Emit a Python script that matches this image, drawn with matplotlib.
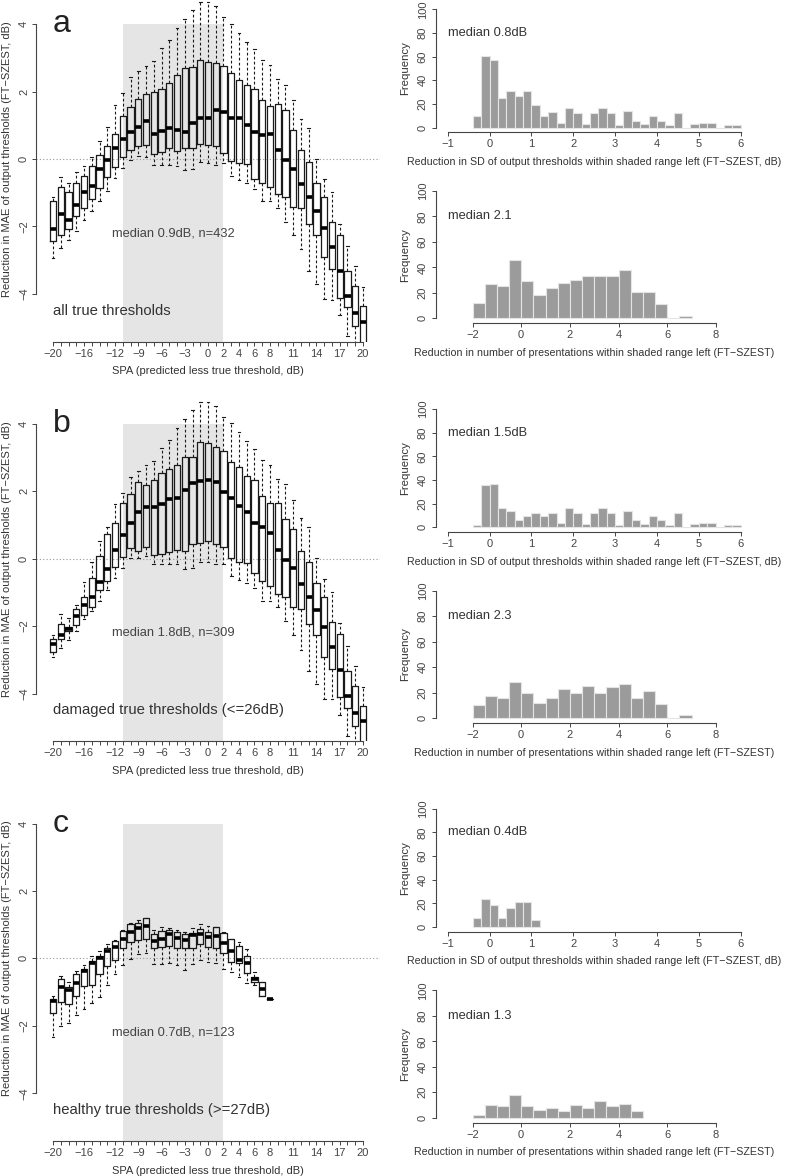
"""Boxplots of MAE reduction by SPA, with SD / presentation histograms (3 subsets)."""

import matplotlib

matplotlib.use("Agg")
import matplotlib.pyplot as plt
import numpy as np
from matplotlib.patches import Rectangle

plt.rcParams["font.family"] = ["Liberation Sans", "DejaVu Sans"]
plt.rcParams["text.color"] = "#333333"
plt.rcParams["axes.labelcolor"] = "#333333"
plt.rcParams["xtick.color"] = "#444444"
plt.rcParams["ytick.color"] = "#444444"

MINUS = "\u2212"

# ── data ──────────────────────────────────────────────────────────────

spa = list(range(-20, 21))
spa_labels = [-20, -16, -12, -9, -6, -3, 0, 2, 4, 6, 8, 11, 14, 17, 20]

# (a) all true thresholds
a_whislo = [-2.93, -2.65, -2.41, -2.15, -1.80, -1.53, -1.26, -0.95, -0.57, -0.28, -0.02,
            0.09, 0.07, -0.17, -0.17, -0.17, -0.20, -0.33, -0.30, -0.10, -0.11, -0.17,
            -0.11, -0.50, -0.62, -0.71, -0.89, -1.26, -1.26, -1.44, -1.86, -2.26, -2.68,
            -3.32, -3.71, -4.16, -4.17, -4.64, -5.26, -5.70, -6.00]
a_q1 = [-2.44, -2.24, -2.08, -1.69, -1.45, -1.18, -0.85, -0.54, -0.25, 0.06, 0.26,
        0.40, 0.41, 0.15, 0.22, 0.32, 0.23, 0.32, 0.32, 0.44, 0.42, 0.39,
        0.19, -0.05, -0.11, -0.15, -0.60, -0.72, -0.84, -1.04, -1.14, -1.42, -1.46,
        -1.93, -2.26, -2.92, -3.26, -4.12, -4.40, -4.96, -5.60]
a_med = [-2.07, -1.62, -1.80, -1.36, -0.98, -0.79, -0.30, -0.03, 0.33, 0.60, 0.79,
         0.96, 1.14, 0.74, 0.83, 0.93, 0.87, 0.81, 1.08, 1.21, 1.22, 1.45,
         1.38, 1.23, 1.21, 1.00, 0.81, 0.70, 0.73, 0.27, -0.04, -0.29, -0.74,
         -1.12, -1.53, -2.04, -2.60, -3.32, -4.07, -4.58, -4.83]
a_q3 = [-1.25, -0.82, -0.97, -0.72, -0.49, -0.21, 0.11, 0.40, 0.73, 1.27, 1.55,
        1.79, 1.94, 1.98, 2.07, 2.25, 2.49, 2.69, 2.73, 2.94, 2.88, 2.84,
        2.76, 2.54, 2.34, 2.21, 2.07, 1.75, 1.58, 1.62, 1.46, 0.87, 0.26,
        -0.10, -0.72, -1.14, -1.87, -2.24, -3.33, -3.77, -4.37]
a_whishi = [-1.12, -0.52, -0.70, -0.40, -0.21, 0.07, 0.52, 0.94, 1.61, 1.95, 2.43,
            2.61, 2.77, 2.92, 3.28, 3.53, 3.88, 4.15, 4.43, 4.67, 4.67, 4.54,
            4.21, 4.01, 3.75, 3.48, 3.26, 2.94, 2.78, 2.37, 2.21, 1.75, 1.20,
            0.93, 0.00, -0.59, -0.99, -1.92, -2.58, -3.18, -3.81]

# (b) damaged true thresholds
b_whislo = [-2.91, -2.64, -2.40, -2.14, -1.80, -1.54, -1.25, -0.93, -0.58, -0.29, 0.01,
            0.01, 0.09, -0.16, -0.16, -0.17, -0.17, -0.32, -0.29, -0.11, -0.11, -0.16,
            -0.16, -0.50, -0.63, -0.73, -0.88, -1.25, -1.25, -1.43, -1.85, -2.25, -2.70,
            -3.33, -3.72, -4.15, -4.17, -4.64, -5.26, -5.70, -6.00]
b_q1 = [-2.76, -2.37, -2.14, -1.97, -1.68, -1.43, -0.93, -0.67, -0.24, 0.06, 0.31,
        0.24, 0.36, 0.10, 0.14, 0.19, 0.26, 0.23, 0.43, 0.47, 0.53, 0.44,
        0.35, 0.01, -0.09, -0.14, -0.42, -0.65, -0.81, -1.05, -1.15, -1.43, -1.48,
        -1.94, -2.27, -2.91, -3.26, -4.10, -4.42, -4.96, -5.60]
b_med = [-2.53, -2.25, -2.08, -1.69, -1.36, -1.13, -0.69, -0.32, 0.26, 0.71, 1.07,
         1.38, 1.54, 1.54, 1.63, 1.77, 1.81, 2.03, 2.25, 2.30, 2.33, 2.28,
         1.99, 1.79, 1.56, 1.38, 1.05, 0.93, 0.75, 0.27, -0.04, -0.29, -0.75,
         -1.13, -1.53, -2.04, -2.61, -3.31, -4.08, -4.59, -4.82]
b_q3 = [-2.38, -1.95, -2.02, -1.49, -1.13, -0.56, 0.09, 0.73, 1.05, 1.66, 1.93,
        2.27, 2.20, 2.33, 2.53, 2.67, 2.77, 3.01, 3.01, 3.45, 3.43, 3.31,
        3.19, 2.88, 2.73, 2.44, 2.34, 1.85, 1.64, 1.64, 1.17, 0.88, 0.24,
        -0.11, -0.71, -1.13, -1.87, -2.24, -3.34, -3.78, -4.38]
b_whishi = [-2.25, -1.63, -1.75, -1.36, -0.68, -0.11, 0.53, 0.93, 1.61, 1.94, 2.42,
            2.60, 2.77, 2.91, 3.28, 3.52, 3.87, 4.15, 4.42, 4.66, 4.66, 4.54,
            4.20, 4.02, 3.75, 3.49, 3.26, 2.94, 2.77, 2.37, 2.21, 1.74, 1.20,
            0.93, 0.01, -0.60, -0.99, -1.92, -2.59, -3.17, -3.82]

# (c) healthy true thresholds (no data above SPA 8)
c_spa = list(range(-20, 9))
c_whislo = [-2.34, -2.00, -1.93, -1.68, -1.51, -1.31, -1.14, -0.79, -0.47, -0.20,
            -0.02, 0.13, 0.15, -0.17, -0.18, -0.13, -0.20, -0.33, -0.18, -0.05,
            -0.10, -0.13, -0.30, -0.40, -0.56, -0.72, -0.79, -1.12, -1.19]
c_q1 = [-1.63, -1.30, -1.35, -1.11, -0.81, -0.79, -0.46, -0.23, -0.05, 0.30,
        0.50, 0.56, 0.59, 0.30, 0.33, 0.38, 0.30, 0.30, 0.30, 0.42,
        0.35, 0.30, 0.17, -0.10, -0.15, -0.44, -0.69, -1.12, -1.19]
c_med = [-1.25, -0.84, -0.94, -0.72, -0.37, -0.15, 0.02, 0.23, 0.35, 0.59,
         0.79, 0.89, 0.97, 0.51, 0.59, 0.71, 0.62, 0.56, 0.69, 0.71,
         0.64, 0.67, 0.46, 0.23, -0.05, -0.15, -0.62, -0.91, -1.19]
c_q3 = [-1.19, -0.62, -0.84, -0.46, -0.30, -0.07, 0.07, 0.30, 0.52, 0.82,
        1.01, 1.06, 1.20, 0.71, 0.81, 0.84, 0.77, 0.72, 0.76, 0.86,
        0.79, 0.92, 0.76, 0.59, 0.38, 0.08, -0.54, -0.69, -1.19]
c_whishi = [-1.12, -0.51, -0.70, -0.38, -0.21, 0.08, 0.21, 0.44, 0.56, 0.84,
            1.04, 1.14, 1.20, 0.84, 0.94, 0.91, 0.84, 0.79, 0.91, 1.01,
            0.97, 0.92, 0.79, 0.59, 0.49, 0.27, -0.40, -0.69, -1.19]

# histograms: reduction in SD (bins of 0.2 from -0.4) and in presentations (bins of 0.5 from -2)
sd_a = [10, 61, 57, 25, 31, 27, 31, 19, 10, 13, 4, 17, 12, 3, 12, 17,
        12, 2, 14, 6, 3, 10, 6, 2, 12, 0, 3, 4, 4, 0, 2, 2]
sd_b = [2, 36, 37, 16, 14, 6, 10, 12, 10, 12, 4, 16, 12, 3, 12, 16,
        12, 2, 14, 6, 3, 10, 6, 2, 12, 0, 3, 4, 4, 0, 2, 2]
sd_c = [8, 24, 19, 8, 16, 21, 21, 6]
pres_a = [12, 27, 25, 46, 29, 18, 24, 28, 30, 33, 33, 33, 38, 21, 21, 11, 0, 2]
pres_b = [10, 17, 16, 28, 20, 12, 16, 23, 20, 25, 20, 24, 27, 16, 21, 11, 0, 2]
pres_c = [2, 10, 9, 18, 9, 6, 8, 5, 10, 8, 13, 9, 11, 5]

sd_start, sd_width = -0.4, 0.2
pres_start, pres_width = -2.0, 0.5

panel_letters = ["a", "b", "c"]
panel_notes = ["all true thresholds",
               "damaged true thresholds (<=26dB)",
               "healthy true thresholds (>=27dB)"]
panel_medians = ["median 0.9dB, n=432", "median 1.8dB, n=309", "median 0.7dB, n=123"]
sd_medians = ["median 0.8dB", "median 1.5dB", "median 0.4dB"]
pres_medians = ["median 2.1", "median 2.3", "median 1.3"]

# ── layout helpers (pixel positions of the 787x1176 figure) ───────────

W, H = 787, 1176
ROW = 399.7


def px_axes(fig, left, top, right, bottom):
    return fig.add_axes([left / W, 1 - bottom / H, (right - left) / W, (bottom - top) / H])


def r_style(ax, xbounds, ybounds):
    for side in ("top", "right"):
        ax.spines[side].set_visible(False)
    for side in ("left", "bottom"):
        ax.spines[side].set_color("#444444")
        ax.spines[side].set_linewidth(0.8)
    ax.spines["bottom"].set_bounds(*xbounds)
    ax.spines["left"].set_bounds(*ybounds)
    ax.tick_params(length=3, width=0.7, labelsize=8)


def tick_text(v):
    return f"{v:g}".replace("-", MINUS)


def box_panel(fig, row, positions, lo, q1, med, q3, hi):
    top = -23.7 + ROW * row
    bottom = 341.7 + ROW * row
    ax = px_axes(fig, 36, top, 380, bottom)
    ax.set_xlim(-22.2, 22.2)
    ax.set_ylim(-5.42, 5.42)

    ax.add_patch(Rectangle((-11, -6), 13, 10, facecolor="#e5e5e5", edgecolor="none", zorder=0))
    ax.axhline(0, color="#999999", lw=0.8, ls=(0, (1, 2)), zorder=0.5)

    stats = [dict(med=m, q1=a, q3=b, whislo=l, whishi=h, fliers=[])
             for l, a, m, b, h in zip(lo, q1, med, q3, hi)]
    ax.bxp(stats, positions=positions, widths=0.8, capwidths=0.35, showfliers=False,
           manage_ticks=False,
           boxprops=dict(color="#1a1a1a", lw=0.9),
           whiskerprops=dict(color="#1a1a1a", lw=0.8, ls=(0, (2.5, 2))),
           capprops=dict(color="#1a1a1a", lw=0.8),
           medianprops=dict(color="black", lw=2.6, solid_capstyle="butt"))

    r_style(ax, (-20, 20), (-4, 4))
    ax.set_xticks(spa)
    ax.set_xticklabels([tick_text(v) if v in spa_labels else "" for v in spa])
    ax.set_yticks([-4, -2, 0, 2, 4])
    ax.set_yticklabels([tick_text(v) for v in [-4, -2, 0, 2, 4]], rotation=90, va="center")
    ax.tick_params(axis="x", pad=2)
    ax.tick_params(axis="y", pad=2)

    ax.set_xlabel("SPA (predicted less true threshold, dB)", fontsize=8)
    ax.xaxis.set_label_coords(0.5, -29.5 / (bottom - top))
    ax.xaxis.label.set_va("center")
    ax.set_ylabel(f"Reduction in MAE of output thresholds (FT{MINUS}SZEST, dB)", fontsize=8)
    ax.yaxis.set_label_coords(-29 / 344, 0.5)
    ax.yaxis.label.set_va("center")

    ax.text(-20, 4.0, panel_letters[row], fontsize=23, ha="left", va="center", color="#222222")
    ax.text(-4.5, -2.2, panel_medians[row], fontsize=9.3, ha="center", va="center", color="#444444")
    ax.text(-20, -4.5, panel_notes[row], fontsize=10.7, ha="left", va="center", color="#333333")
    return ax


def hist_panel(fig, top, bottom, counts, start, width, xlim, xticks, xlabel, note, note_x):
    ax = px_axes(fig, 436, top, 752.4, bottom)
    edges = start + width * np.arange(len(counts))
    ax.bar(edges, counts, width=width, align="edge", color="#9b9b9b",
           edgecolor="#e4e4e4", linewidth=0.8)
    ax.set_xlim(*xlim)
    ax.set_ylim(-4, 104)
    r_style(ax, (xticks[0], xticks[-1]), (0, 100))
    ax.set_xticks(xticks)
    ax.set_xticklabels([tick_text(v) for v in xticks])
    ax.set_yticks([0, 20, 40, 60, 80, 100])
    ax.set_yticklabels(["0", "20", "40", "60", "80", "100"], rotation=90, va="center")
    ax.tick_params(axis="x", pad=2)
    ax.tick_params(axis="y", pad=3)
    ax.set_xlabel(xlabel, fontsize=7.7)
    ax.xaxis.set_label_coords(0.5, -29.5 / (bottom - top))
    ax.xaxis.label.set_va("center")
    ax.set_ylabel("Frequency", fontsize=8.2)
    ax.yaxis.set_label_coords(-31 / 316.4, 0.5)
    ax.yaxis.label.set_va("center")
    ax.text(note_x, 80, note, fontsize=9.3, ha="left", va="center", color="#333333")
    return ax


# ── main ──────────────────────────────────────────────────────────────

def main():
    fig = plt.figure(figsize=(W / 100, H / 100), dpi=100)

    box_panel(fig, 0, spa, a_whislo, a_q1, a_med, a_q3, a_whishi)
    box_panel(fig, 1, spa, b_whislo, b_q1, b_med, b_q3, b_whishi)
    box_panel(fig, 2, c_spa, c_whislo, c_q1, c_med, c_q3, c_whishi)

    sd_label = f"Reduction in SD of output thresholds within shaded range left (FT{MINUS}SZEST, dB)"
    pres_label = f"Reduction in number of presentations within shaded range left (FT{MINUS}SZEST)"
    sd_sets = [sd_a, sd_b, sd_c]
    pres_sets = [pres_a, pres_b, pres_c]
    for row in range(3):
        off = ROW * row
        hist_panel(fig, 4.7 + off, 132.4 + off, sd_sets[row], sd_start, sd_width,
                   (-1.28, 6.28), [-1, 0, 1, 2, 3, 4, 5, 6], sd_label, sd_medians[row], -1)
        hist_panel(fig, 185.9 + off, 323.4 + off, pres_sets[row], pres_start, pres_width,
                   (-3.5, 9.5), [-2, 0, 2, 4, 6, 8], pres_label, pres_medians[row], -3)

    fig.savefig("out.png", dpi=100)
    plt.close(fig)


if __name__ == "__main__":
    main()
